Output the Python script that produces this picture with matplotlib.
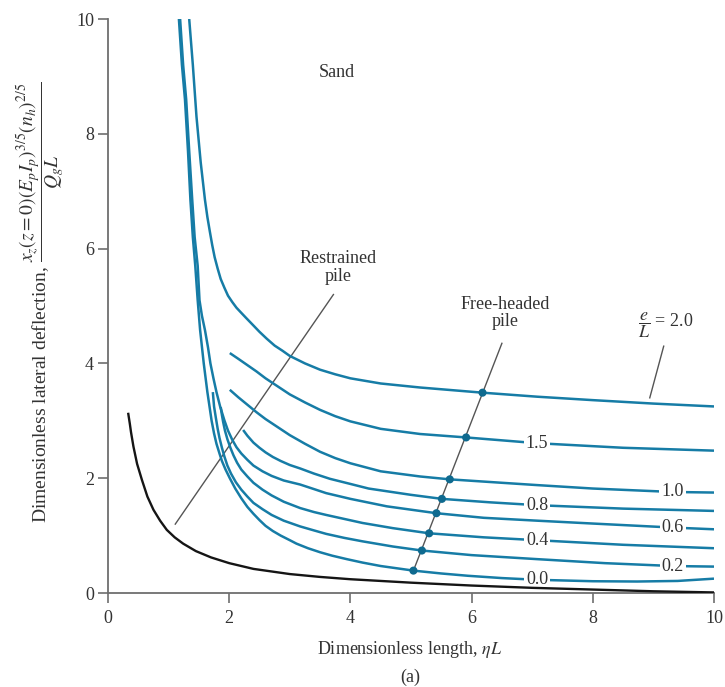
import numpy as np
import matplotlib
matplotlib.use("Agg")
import matplotlib.pyplot as plt

plt.rcParams["font.family"] = ["Liberation Serif", "DejaVu Serif"]
plt.rcParams["mathtext.fontset"] = "stix"

# e/L values of the free-headed pile curves
e_over_L = ["0.0", "0.2", "0.4", "0.6", "0.8", "1.0", "1.5", "2.0"]

# Free-headed pile curves: (eta*L, dimensionless deflection)
x_00 = [1.17, 1.22, 1.27, 1.32, 1.36, 1.40, 1.44, 1.48, 1.52, 1.58, 1.64, 1.71, 1.75, 1.79, 1.84, 1.88,
        1.94, 2.01, 2.10, 2.20, 2.30, 2.40, 2.50, 2.60, 2.72, 2.85, 3.00, 3.11, 3.30, 3.50, 3.70, 3.94,
        4.20, 4.50, 5.04, 5.50, 5.94, 6.50, 7.08, 8.00, 8.73, 9.40, 10.0]
y_00 = [10.0, 9.20, 8.60, 7.70, 6.85, 6.20, 5.70, 5.10, 4.58, 4.00, 3.50, 3.00, 2.78, 2.60, 2.43, 2.30,
        2.15, 2.00, 1.82, 1.65, 1.50, 1.38, 1.27, 1.17, 1.08, 1.00, 0.92, 0.86, 0.78, 0.71, 0.65, 0.59,
        0.53, 0.47, 0.39, 0.34, 0.30, 0.26, 0.23, 0.205, 0.20, 0.21, 0.25]

x_02 = [1.73, 1.75, 1.78, 1.81, 1.84, 1.88, 1.92, 1.97, 2.03, 2.11, 2.20, 2.30, 2.40, 2.55, 2.70,
        2.90, 3.17, 3.40, 3.60, 3.90, 4.20, 4.70, 5.18, 6.00, 7.08, 8.20, 9.32, 10.0]
y_02 = [3.50, 3.25, 3.05, 2.86, 2.70, 2.53, 2.38, 2.22, 2.08, 1.93, 1.80, 1.68, 1.57, 1.46, 1.36,
        1.26, 1.16, 1.09, 1.03, 0.96, 0.90, 0.81, 0.74, 0.66, 0.59, 0.52, 0.47, 0.46]

x_04 = [1.86, 1.88, 1.90, 1.93, 1.97, 2.02, 2.07, 2.13, 2.20, 2.30, 2.40, 2.55, 2.70, 2.90, 3.17,
        3.40, 3.60, 3.90, 4.20, 4.70, 5.30, 6.20, 7.08, 8.50, 10.0]
y_04 = [3.24, 3.10, 2.98, 2.83, 2.68, 2.53, 2.40, 2.27, 2.15, 2.03, 1.92, 1.80, 1.70, 1.59, 1.48,
        1.41, 1.36, 1.29, 1.22, 1.13, 1.04, 0.97, 0.92, 0.84, 0.78]

x_06 = [1.19, 1.24, 1.29, 1.34, 1.39, 1.43, 1.48, 1.51, 1.55, 1.60, 1.65, 1.69, 1.74, 1.79, 1.85,
        1.92, 1.98, 2.05, 2.12, 2.20, 2.30, 2.40, 2.55, 2.70, 2.90, 3.17, 3.40, 3.60, 4.00, 4.60,
        5.42, 6.20, 7.08, 8.00, 9.32, 10.0]
y_06 = [10.0, 9.20, 8.60, 7.70, 6.85, 6.20, 5.70, 5.10, 4.83, 4.58, 4.28, 4.00, 3.74, 3.50, 3.25,
        3.01, 2.83, 2.67, 2.54, 2.43, 2.32, 2.22, 2.12, 2.04, 1.96, 1.89, 1.81, 1.74, 1.64, 1.51,
        1.39, 1.31, 1.26, 1.21, 1.14, 1.11]

x_08 = [2.23, 2.30, 2.40, 2.50, 2.60, 2.72, 2.85, 3.00, 3.17, 3.40, 3.66, 4.00, 4.30, 5.00, 5.51,
        6.30, 7.08, 8.50, 10.0]
y_08 = [2.84, 2.74, 2.62, 2.53, 2.45, 2.37, 2.30, 2.23, 2.17, 2.08, 1.99, 1.90, 1.82, 1.71, 1.64,
        1.58, 1.53, 1.47, 1.43]

x_10 = [2.01, 2.15, 2.30, 2.45, 2.60, 2.80, 3.00, 3.25, 3.50, 3.75, 4.00, 4.50, 5.15, 5.64, 6.50,
        7.08, 8.00, 9.32, 10.0]
y_10 = [3.54, 3.41, 3.28, 3.15, 3.03, 2.89, 2.75, 2.60, 2.46, 2.35, 2.26, 2.12, 2.03, 1.98, 1.92,
        1.88, 1.82, 1.76, 1.75]

x_15 = [2.01, 2.15, 2.30, 2.45, 2.60, 2.80, 3.00, 3.25, 3.50, 3.75, 4.00, 4.50, 5.15, 5.91, 7.08,
        8.50, 10.0]
y_15 = [4.18, 4.08, 3.97, 3.86, 3.74, 3.60, 3.46, 3.32, 3.19, 3.08, 2.99, 2.86, 2.77, 2.71, 2.61,
        2.53, 2.48]

x_20 = [1.34, 1.40, 1.46, 1.53, 1.60, 1.64, 1.68, 1.72, 1.76, 1.81, 1.86, 1.92, 1.98, 2.05, 2.12,
        2.20, 2.29, 2.40, 2.50, 2.62, 2.75, 2.88, 3.00, 3.25, 3.50, 3.75, 4.00, 4.50, 5.15, 6.18,
        7.08, 8.00, 9.00, 10.0]
y_20 = [10.0, 9.20, 8.30, 7.50, 6.85, 6.55, 6.30, 6.06, 5.85, 5.65, 5.47, 5.32, 5.18, 5.07, 4.97,
        4.88, 4.78, 4.66, 4.55, 4.43, 4.31, 4.22, 4.13, 4.00, 3.89, 3.81, 3.74, 3.65, 3.58, 3.49,
        3.42, 3.36, 3.30, 3.25]

# Restrained pile curve
x_restrained = [0.335, 0.36, 0.38, 0.42, 0.48, 0.56, 0.65, 0.75, 0.86, 0.97, 1.10, 1.24, 1.45, 1.70,
                2.00, 2.40, 3.00, 3.50, 4.00, 5.00, 6.00, 7.00, 8.00, 9.00, 10.0]
y_restrained = [3.12, 2.95, 2.80, 2.55, 2.25, 1.97, 1.68, 1.45, 1.26, 1.10, 0.97, 0.86, 0.73, 0.62,
                0.52, 0.42, 0.33, 0.28, 0.24, 0.18, 0.13, 0.09, 0.06, 0.03, 0.01]

# Free-headed pile marker positions (eta*L) on each curve
dot_x = [5.04, 5.18, 5.30, 5.42, 5.51, 5.64, 5.91, 6.18]

# Inline label positions (eta*L) for e/L = 0.0 ... 1.5
label_x = [7.08, 9.32, 7.08, 9.32, 7.08, 9.32, 7.08]

x_ticks = [0, 2, 4, 6, 8, 10]
y_ticks = [0, 2, 4, 6, 8, 10]

curves_x = [x_00, x_02, x_04, x_06, x_08, x_10, x_15, x_20]
curves_y = [y_00, y_02, y_04, y_06, y_08, y_10, y_15, y_20]

BLUE = "#167ca6"
DOT = "#0f6a8f"
TEXT = "#333333"
AXIS = "#6e6e6e"
LEADER = "#555555"

W, H = 725, 687
fig = plt.figure(figsize=(W / 100, H / 100), dpi=100)
ax = fig.add_axes([108 / W, 1 - 593 / H, (714 - 108) / W, (593 - 19) / H])
ax.set_xlim(0, 10)
ax.set_ylim(0, 10)
ax.set_xticks(x_ticks)
ax.set_yticks(y_ticks)
for s in ("top", "right"):
    ax.spines[s].set_visible(False)
for s in ("left", "bottom"):
    ax.spines[s].set_color(AXIS)
    ax.spines[s].set_linewidth(1.3)
ax.tick_params(direction="out", length=7, width=1.2, color=AXIS,
               labelsize=13, labelcolor=TEXT, pad=3)
ax.tick_params(axis="x", pad=5)

# Curves
for xs, ys in zip(curves_x, curves_y):
    ax.plot(xs, ys, color=BLUE, lw=1.8, solid_capstyle="butt", solid_joinstyle="round", zorder=3)
ax.plot(x_restrained, y_restrained, color="#151515", lw=1.7, solid_joinstyle="round", zorder=7)

# Free-headed pile leader through the markers
dot_y = [np.interp(dx, xs, ys) for dx, xs, ys in zip(dot_x, curves_x, curves_y)]
ax.plot([dot_x[0], 6.50], [dot_y[0], 4.35], color=LEADER, lw=1.0, zorder=2)
ax.scatter(dot_x, dot_y, s=34, color=DOT, zorder=5, edgecolors="none")

# Inline e/L labels
for lab, lx, xs, ys in zip(e_over_L[:-1], label_x, curves_x[:-1], curves_y[:-1]):
    ly = np.interp(lx, xs, ys)
    ax.text(lx, ly, lab, ha="center", va="center", fontsize=13, color=TEXT, zorder=6,
            bbox=dict(boxstyle="square,pad=0.12", fc="white", ec="none"))

# e/L = 2.0 label with leader
ax.text(9.2, 4.67, r"$\dfrac{e}{L}$ = 2.0", ha="center", va="center", fontsize=13, color=TEXT)
ax.plot([9.17, 8.94], [4.30, 3.40], color=LEADER, lw=1.0, zorder=2)

# Restrained pile label with leader
ax.text(3.80, 5.67, "Restrained\npile", ha="center", va="center", fontsize=13,
        color=TEXT, linespacing=1.05)
ax.plot([1.11, 3.72], [1.20, 5.20], color=LEADER, lw=1.0, zorder=2)

# Free-headed pile label
ax.text(6.56, 4.88, "Free-headed\npile", ha="center", va="center", fontsize=13,
        color=TEXT, linespacing=1.05)

ax.text(3.78, 9.07, "Sand", ha="center", va="center", fontsize=13, color=TEXT)

# Axis titles
fig.text(410 / W, 1 - 650 / H, r"Dimensionless length, $\eta L$", ha="center", va="center",
         fontsize=13, color=TEXT)
fig.text(410 / W, 1 - 677 / H, "(a)", ha="center", va="center", fontsize=13, color=TEXT)
fig.text(41 / W, 1 - 302 / H,
         r"Dimensionless lateral deflection, $\dfrac{x_z(z = 0)(E_pI_p)^{3/5}(n_h)^{2/5}}{Q_gL}$",
         rotation=90, ha="center", va="center", fontsize=14, color=TEXT)

fig.savefig("out.png", dpi=100)
